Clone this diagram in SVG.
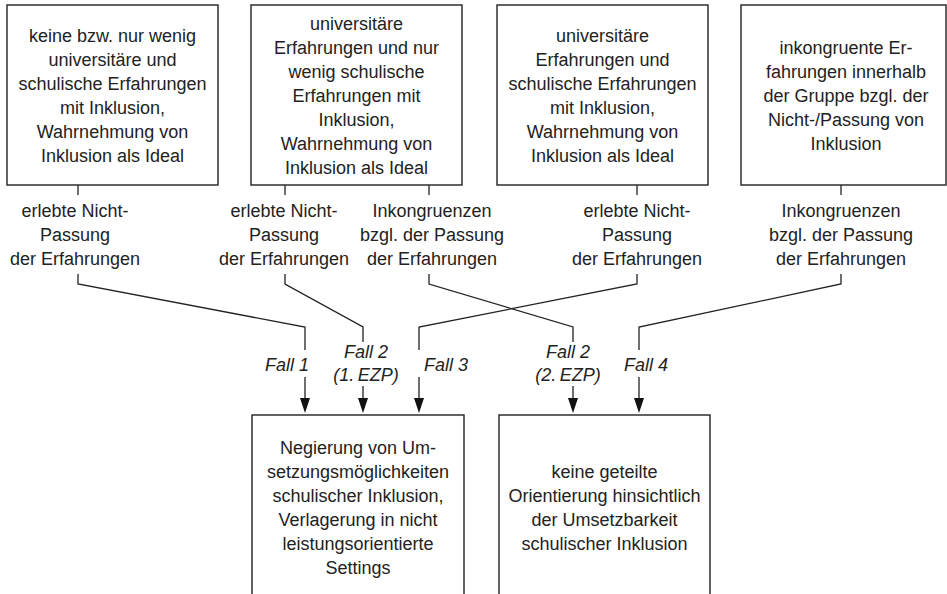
<svg xmlns="http://www.w3.org/2000/svg" width="947" height="594" viewBox="0 0 947 594">
<defs>
<style>
.box{fill:#fff;stroke:#222;stroke-width:1.4}
.t{font-family:"Liberation Sans",Arial,sans-serif;font-size:18px;fill:#222;text-anchor:middle}
.f{font-style:italic}
.c{fill:none;stroke:#222;stroke-width:1.3}
.bg{fill:#fff}
</style>
<marker id="ah" viewBox="0 0 10 15" refX="10" refY="7.5" markerWidth="10" markerHeight="15" markerUnits="userSpaceOnUse" orient="auto">
<path d="M0,0 L10,7.5 L0,15 z" fill="#111"/>
</marker>
</defs>
<rect width="947" height="594" fill="#fff"/>

<g id="connectors">
<!-- box1 -> Fall 1 -->
<path class="c" d="M78,185 V195"/>
<path class="c" d="M78,274 V284 L305,327 V398"/>
<path d="M300,398 L310,398 L305,413 z" fill="#111"/>
<!-- box2 left -> Fall 2 (1.) -->
<path class="c" d="M285,185 V195"/>
<path class="c" d="M285,274 V284 L363,327 V398"/>
<path d="M358,398 L368,398 L363,413 z" fill="#111"/>
<!-- box2 right -> Fall 2 (2.) -->
<path class="c" d="M429,185 V195"/>
<path class="c" d="M429,274 V284 L573,327 V398"/>
<path d="M568,398 L578,398 L573,413 z" fill="#111"/>
<!-- box3 -> Fall 3 -->
<path class="c" d="M637,185 V195"/>
<path class="c" d="M637,274 V284 L419,327 V398"/>
<path d="M414,398 L424,398 L419,413 z" fill="#111"/>
<!-- box4 -> Fall 4 -->
<path class="c" d="M841,185 V195"/>
<path class="c" d="M841,274 V284 L639,327 V398"/>
<path d="M634,398 L644,398 L639,413 z" fill="#111"/>

<!-- edge labels -->
<g id="lbl1">
<text class="t" x="75" y="217">erlebte Nicht-</text>
<text class="t" x="75" y="241">Passung</text>
<text class="t" x="75" y="265">der Erfahrungen</text>
</g>
<g id="lbl2">
<text class="t" x="284" y="217">erlebte Nicht-</text>
<text class="t" x="284" y="241">Passung</text>
<text class="t" x="284" y="265">der Erfahrungen</text>
</g>
<g id="lbl3">
<text class="t" x="432" y="217">Inkongruenzen</text>
<text class="t" x="432" y="241">bzgl. der Passung</text>
<text class="t" x="432" y="265">der Erfahrungen</text>
</g>
<g id="lbl4">
<text class="t" x="637" y="217">erlebte Nicht-</text>
<text class="t" x="637" y="241">Passung</text>
<text class="t" x="637" y="265">der Erfahrungen</text>
</g>
<g id="lbl5">
<text class="t" x="841" y="217">Inkongruenzen</text>
<text class="t" x="841" y="241">bzgl. der Passung</text>
<text class="t" x="841" y="265">der Erfahrungen</text>
</g>

<!-- Fall labels -->
<g id="fall1">
<rect class="bg" x="262" y="350" width="50" height="27"/>
<text class="t f" x="287" y="371">Fall 1</text>
</g>
<g id="fall2a">
<rect class="bg" x="333" y="342" width="66" height="44"/>
<text class="t f" x="366" y="358">Fall 2</text>
<text class="t f" x="366" y="381">(1.&#8201;EZP)</text>
</g>
<g id="fall3">
<rect class="bg" x="416" y="350" width="56" height="27"/>
<text class="t f" x="446" y="371">Fall 3</text>
</g>
<g id="fall2b">
<rect class="bg" x="535" y="342" width="66" height="44"/>
<text class="t f" x="568" y="358">Fall 2</text>
<text class="t f" x="568" y="381">(2.&#8201;EZP)</text>
</g>
<g id="fall4">
<rect class="bg" x="620" y="350" width="52" height="27"/>
<text class="t f" x="646" y="371">Fall 4</text>
</g>
</g>

<g id="n1">
<rect class="box" x="7" y="5" width="211" height="180"/>
<text class="t" x="112.5" y="42">keine bzw. nur wenig</text>
<text class="t" x="112.5" y="66">universitäre und</text>
<text class="t" x="112.5" y="90">schulische Erfahrungen</text>
<text class="t" x="112.5" y="114">mit Inklusion,</text>
<text class="t" x="112.5" y="138">Wahrnehmung von</text>
<text class="t" x="112.5" y="162">Inklusion als Ideal</text>
</g>
<g id="n2">
<rect class="box" x="251" y="5" width="211" height="180"/>
<text class="t" x="356.5" y="30">universitäre</text>
<text class="t" x="356.5" y="54">Erfahrungen und nur</text>
<text class="t" x="356.5" y="78">wenig schulische</text>
<text class="t" x="356.5" y="102">Erfahrungen mit</text>
<text class="t" x="356.5" y="126">Inklusion,</text>
<text class="t" x="356.5" y="150">Wahrnehmung von</text>
<text class="t" x="356.5" y="174">Inklusion als Ideal</text>
</g>
<g id="n3">
<rect class="box" x="497" y="5" width="211" height="180"/>
<text class="t" x="602.5" y="42">universitäre</text>
<text class="t" x="602.5" y="66">Erfahrungen und</text>
<text class="t" x="602.5" y="90">schulische Erfahrungen</text>
<text class="t" x="602.5" y="114">mit Inklusion,</text>
<text class="t" x="602.5" y="138">Wahrnehmung von</text>
<text class="t" x="602.5" y="162">Inklusion als Ideal</text>
</g>
<g id="n4">
<rect class="box" x="741" y="5" width="205" height="180"/>
<text class="t" x="846" y="54">inkongruente Er-</text>
<text class="t" x="846" y="78">fahrungen innerhalb</text>
<text class="t" x="846" y="102">der Gruppe bzgl. der</text>
<text class="t" x="846" y="126">Nicht-/Passung von</text>
<text class="t" x="846" y="150">Inklusion</text>
</g>
<g id="n5">
<rect class="box" x="252" y="415" width="212" height="190"/>
<text class="t" x="358" y="454">Negierung von Um-</text>
<text class="t" x="358" y="478">setzungsmöglichkeiten</text>
<text class="t" x="358" y="502">schulischer Inklusion,</text>
<text class="t" x="358" y="526">Verlagerung in nicht</text>
<text class="t" x="358" y="550">leistungsorientierte</text>
<text class="t" x="358" y="574">Settings</text>
</g>
<g id="n6">
<rect class="box" x="499" y="415" width="211" height="190"/>
<text class="t" x="604.5" y="478">keine geteilte</text>
<text class="t" x="604.5" y="502">Orientierung hinsichtlich</text>
<text class="t" x="604.5" y="526">der Umsetzbarkeit</text>
<text class="t" x="604.5" y="550">schulischer Inklusion</text>
</g>
</svg>
